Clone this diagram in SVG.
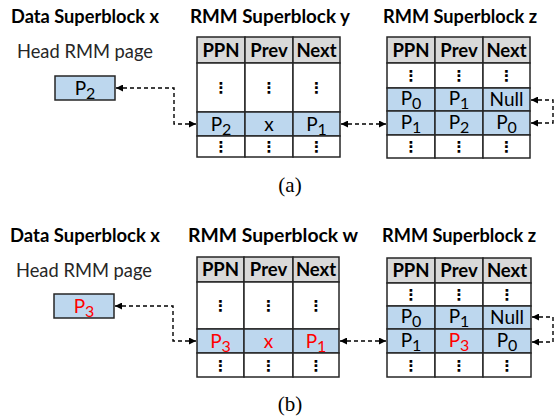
<svg xmlns="http://www.w3.org/2000/svg" width="555" height="418" viewBox="0 0 555 418">
<style>
.t{font-family:Lato,"Liberation Sans",sans-serif;font-size:19px;font-weight:bold;fill:#000}
.r{font-family:Lato,"Liberation Sans",sans-serif;font-size:19px;fill:#262626}
.h{font-family:Lato,"Liberation Sans",sans-serif;font-size:18.5px;font-weight:bold;fill:#000;text-anchor:middle}
.c{font-family:Lato,"Liberation Sans",sans-serif;font-size:19px;fill:#000;text-anchor:middle}
.red{fill:#ff0000}
.d{font-family:"DejaVu Sans",sans-serif;font-size:15px;font-weight:bold;fill:#000;text-anchor:middle}
.cap{font-family:"Liberation Serif",serif;font-size:21px;fill:#000;text-anchor:middle}
.g{fill:#d9d9d9;stroke:#262626;stroke-width:1.5}
.w{fill:#ffffff;stroke:#262626;stroke-width:1.5}
.b{fill:#bdd7ee;stroke:#262626;stroke-width:1.5}
.cn{fill:none;stroke:#000;stroke-width:1.4;stroke-dasharray:4 3}
</style>
<defs>
<marker id="ah" viewBox="0 0 10 10" refX="10" refY="5" markerWidth="7" markerHeight="7" markerUnits="userSpaceOnUse" orient="auto-start-reverse">
<path d="M0,0 L10,5 L0,10 z" fill="#000"/>
</marker>
</defs>

<!-- titles -->
<text class="t" x="11" y="23" textLength="148" lengthAdjust="spacingAndGlyphs">Data Superblock x</text>
<text class="t" x="190" y="23" textLength="160" lengthAdjust="spacingAndGlyphs">RMM Superblock y</text>
<text class="t" x="383" y="23" textLength="154" lengthAdjust="spacingAndGlyphs">RMM Superblock z</text>
<text class="r" x="17" y="58" textLength="136" lengthAdjust="spacingAndGlyphs">Head RMM page</text>
<text class="cap" x="290" y="192">(a)</text>

<text class="t" x="10" y="241.5" textLength="150" lengthAdjust="spacingAndGlyphs">Data Superblock x</text>
<text class="t" x="188" y="241.5" textLength="170" lengthAdjust="spacingAndGlyphs">RMM Superblock w</text>
<text class="t" x="382" y="241.5" textLength="154" lengthAdjust="spacingAndGlyphs">RMM Superblock z</text>
<text class="r" x="16" y="276.5" textLength="136" lengthAdjust="spacingAndGlyphs">Head RMM page</text>
<text class="cap" x="290" y="411">(b)</text>

<!-- (a) head box -->
<g id="head-a">
<rect class="b" x="55" y="76" width="60" height="24"/>
<text class="c" x="85" y="94.5">P<tspan font-size="16" dy="4">2</tspan></text>
</g>

<!-- (a) table y -->
<g id="rmm-y">
<rect class="g" x="197" y="37" width="48" height="26"/>
<rect class="g" x="245" y="37" width="48" height="26"/>
<rect class="g" x="293" y="37" width="47" height="26"/>
<rect class="w" x="197" y="63" width="48" height="49"/>
<rect class="w" x="245" y="63" width="48" height="49"/>
<rect class="w" x="293" y="63" width="47" height="49"/>
<rect class="b" x="197" y="112" width="48" height="24"/>
<rect class="b" x="245" y="112" width="48" height="24"/>
<rect class="b" x="293" y="112" width="47" height="24"/>
<rect class="w" x="197" y="136" width="48" height="21"/>
<rect class="w" x="245" y="136" width="48" height="21"/>
<rect class="w" x="293" y="136" width="47" height="21"/>
<text class="h" x="221" y="56.5">PPN</text>
<text class="h" x="269" y="56.5">Prev</text>
<text class="h" x="316.5" y="56.5">Next</text>
<text class="d" x="221" y="93">⋮</text>
<text class="d" x="269" y="93">⋮</text>
<text class="d" x="316.5" y="93">⋮</text>
<text class="c" x="221" y="130.5">P<tspan font-size="16" dy="4">2</tspan></text>
<text class="c" x="269" y="130.5">x</text>
<text class="c" x="316.5" y="130.5">P<tspan font-size="16" dy="4">1</tspan></text>
<text class="d" x="221" y="152">⋮</text>
<text class="d" x="269" y="152">⋮</text>
<text class="d" x="316.5" y="152">⋮</text>
</g>

<!-- (a) table z -->
<g id="rmm-z-a">
<rect class="g" x="387" y="37" width="48" height="26"/>
<rect class="g" x="435" y="37" width="48" height="26"/>
<rect class="g" x="483" y="37" width="47" height="26"/>
<rect class="w" x="387" y="63" width="48" height="25"/>
<rect class="w" x="435" y="63" width="48" height="25"/>
<rect class="w" x="483" y="63" width="47" height="25"/>
<rect class="b" x="387" y="88" width="48" height="23"/>
<rect class="b" x="435" y="88" width="48" height="23"/>
<rect class="b" x="483" y="88" width="47" height="23"/>
<rect class="b" x="387" y="111" width="48" height="24"/>
<rect class="b" x="435" y="111" width="48" height="24"/>
<rect class="b" x="483" y="111" width="47" height="24"/>
<rect class="w" x="387" y="135" width="48" height="23"/>
<rect class="w" x="435" y="135" width="48" height="23"/>
<rect class="w" x="483" y="135" width="47" height="23"/>
<text class="h" x="411" y="56.5">PPN</text>
<text class="h" x="459" y="56.5">Prev</text>
<text class="h" x="506.5" y="56.5">Next</text>
<text class="d" x="411" y="81">⋮</text>
<text class="d" x="459" y="81">⋮</text>
<text class="d" x="506.5" y="81">⋮</text>
<text class="c" x="411" y="105">P<tspan font-size="16" dy="4">0</tspan></text>
<text class="c" x="459" y="105">P<tspan font-size="16" dy="4">1</tspan></text>
<text class="c" x="506.5" y="106">Null</text>
<text class="c" x="411" y="129">P<tspan font-size="16" dy="4">1</tspan></text>
<text class="c" x="459" y="129">P<tspan font-size="16" dy="4">2</tspan></text>
<text class="c" x="506.5" y="129">P<tspan font-size="16" dy="4">0</tspan></text>
<text class="d" x="411" y="152">⋮</text>
<text class="d" x="459" y="152">⋮</text>
<text class="d" x="506.5" y="152">⋮</text>
</g>

<!-- (b) head box -->
<g id="head-b">
<rect class="b" x="54" y="294" width="60" height="24"/>
<text class="c red" x="84" y="312.5">P<tspan font-size="16" dy="4">3</tspan></text>
</g>

<!-- (b) table w -->
<g id="rmm-w">
<rect class="g" x="197" y="257" width="47" height="25"/>
<rect class="g" x="244" y="257" width="49" height="25"/>
<rect class="g" x="293" y="257" width="46" height="25"/>
<rect class="w" x="197" y="282" width="47" height="47"/>
<rect class="w" x="244" y="282" width="49" height="47"/>
<rect class="w" x="293" y="282" width="46" height="47"/>
<rect class="b" x="197" y="329" width="47" height="24"/>
<rect class="b" x="244" y="329" width="49" height="24"/>
<rect class="b" x="293" y="329" width="46" height="24"/>
<rect class="w" x="197" y="353" width="47" height="24"/>
<rect class="w" x="244" y="353" width="49" height="24"/>
<rect class="w" x="293" y="353" width="46" height="24"/>
<text class="h" x="220.5" y="276">PPN</text>
<text class="h" x="268.5" y="276">Prev</text>
<text class="h" x="316" y="276">Next</text>
<text class="d" x="220.5" y="311">⋮</text>
<text class="d" x="268.5" y="311">⋮</text>
<text class="d" x="316" y="311">⋮</text>
<text class="c red" x="220.5" y="347.5">P<tspan font-size="16" dy="4">3</tspan></text>
<text class="c red" x="268.5" y="347.5">x</text>
<text class="c red" x="316" y="347.5">P<tspan font-size="16" dy="4">1</tspan></text>
<text class="d" x="220.5" y="371">⋮</text>
<text class="d" x="268.5" y="371">⋮</text>
<text class="d" x="316" y="371">⋮</text>
</g>

<!-- (b) table z -->
<g id="rmm-z-b">
<rect class="g" x="387" y="258" width="48" height="25"/>
<rect class="g" x="435" y="258" width="48" height="25"/>
<rect class="g" x="483" y="258" width="48" height="25"/>
<rect class="w" x="387" y="283" width="48" height="23"/>
<rect class="w" x="435" y="283" width="48" height="23"/>
<rect class="w" x="483" y="283" width="48" height="23"/>
<rect class="b" x="387" y="306" width="48" height="23"/>
<rect class="b" x="435" y="306" width="48" height="23"/>
<rect class="b" x="483" y="306" width="48" height="23"/>
<rect class="b" x="387" y="329" width="48" height="24"/>
<rect class="b" x="435" y="329" width="48" height="24"/>
<rect class="b" x="483" y="329" width="48" height="24"/>
<rect class="w" x="387" y="353" width="48" height="24"/>
<rect class="w" x="435" y="353" width="48" height="24"/>
<rect class="w" x="483" y="353" width="48" height="24"/>
<text class="h" x="411" y="277">PPN</text>
<text class="h" x="459" y="277">Prev</text>
<text class="h" x="507" y="277">Next</text>
<text class="d" x="411" y="300">⋮</text>
<text class="d" x="459" y="300">⋮</text>
<text class="d" x="507" y="300">⋮</text>
<text class="c" x="411" y="323">P<tspan font-size="16" dy="4">0</tspan></text>
<text class="c" x="459" y="323">P<tspan font-size="16" dy="4">1</tspan></text>
<text class="c" x="507" y="324">Null</text>
<text class="c" x="411" y="347">P<tspan font-size="16" dy="4">1</tspan></text>
<text class="c red" x="459" y="347">P<tspan font-size="16" dy="4">3</tspan></text>
<text class="c" x="507" y="347">P<tspan font-size="16" dy="4">0</tspan></text>
<text class="d" x="411" y="371">⋮</text>
<text class="d" x="459" y="371">⋮</text>
<text class="d" x="507" y="371">⋮</text>
</g>

<!-- connectors -->
<g id="connectors">
<path class="cn" d="M116,88 H174 V124 H196" marker-start="url(#ah)" marker-end="url(#ah)"/>
<path class="cn" d="M341,124 H386" marker-start="url(#ah)" marker-end="url(#ah)"/>
<path class="cn" d="M531,100 H553 V123 H531" marker-start="url(#ah)" marker-end="url(#ah)"/>
<path class="cn" d="M115,306 H173 V341 H196" marker-start="url(#ah)" marker-end="url(#ah)"/>
<path class="cn" d="M340,341 H386" marker-start="url(#ah)" marker-end="url(#ah)"/>
<path class="cn" d="M532,317 H553 V342 H532" marker-start="url(#ah)" marker-end="url(#ah)"/>
</g>
</svg>
